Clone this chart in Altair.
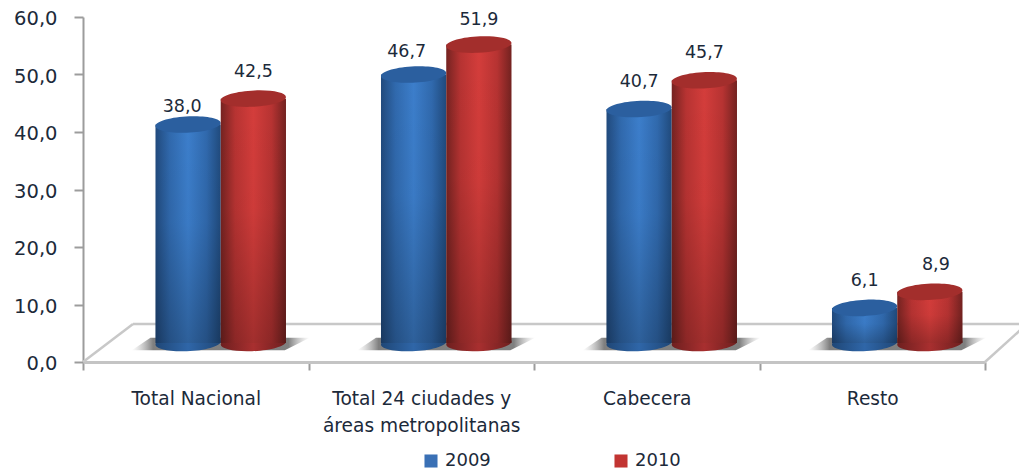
import altair as alt
import pandas as pd

categories = ["Total Nacional", "Total 24 ciudades y áreas metropolitanas", "Cabecera", "Resto"]
years = ["2009", "2010"]
values_2009 = [38.0, 46.7, 40.7, 6.1]
values_2010 = [42.5, 51.9, 45.7, 8.9]

rows = []
for c, a, b in zip(categories, values_2009, values_2010):
    rows.append({"cat": c, "year": "2009", "value": a})
    rows.append({"cat": c, "year": "2010", "value": b})
df = pd.DataFrame(rows)
base_df = pd.DataFrame({"cat": categories})
deco = pd.DataFrame({"k": [0]})

DX = 25
DY = -19
FONT = "DejaVu Sans"
INK = "#1c2a3a"
BAR_W = 65.2

def grad(stops, x2=1, y2=0):
    return alt.LinearGradient(
        gradient="linear", x1=0, y1=0, x2=x2, y2=y2,
        stops=[alt.GradientStop(color=c, offset=o) for o, c in stops],
    )

styles = {
    "2009": {
        "body": [(0, "#214a7d"), (0.22, "#3069ad"), (0.5, "#3c7ecb"), (0.78, "#3069ad"), (1, "#204a7c")],
        "foot": [(0, "#1f4777"), (0.5, "#2f66a8"), (1, "#1f4777")],
        "top": "#2b5f9f",
    },
    "2010": {
        "body": [(0, "#752321"), (0.22, "#b73332"), (0.5, "#d43d3b"), (0.78, "#b73332"), (1, "#732220")],
        "foot": [(0, "#6e1f1f"), (0.5, "#a82f2f"), (1, "#6e1f1f")],
        "top": "#a32e2c",
    },
}
shade = grad([(0, "rgba(0,0,0,0)"), (0.45, "rgba(0,0,0,0.03)"), (1, "rgba(0,0,0,0.24)")], x2=0, y2=1)

ELLIPSE = "M-1,0.04A1,0.25,-3,1,1,1,-0.04A1,0.25,-3,1,1,-1,0.04Z"
SHADOW = "M-1,0.07L-0.79,-0.07L1,-0.07L0.72,0.07Z"

x_enc = alt.X(
    "cat:N",
    sort=categories,
    title=None,
    scale=alt.Scale(domain=categories, paddingInner=0, paddingOuter=0),
    axis=alt.Axis(
        labelAngle=0, labelFont=FONT, labelFontSize=18.6, labelColor=INK,
        labelPadding=28, labelLineHeight=27, labelBaseline="middle",
        tickBand="extent", tickSize=8, tickColor="#9c9c9c", tickWidth=2,
        domainColor="#c4c4c4", domainWidth=3, grid=False, labelLimit=260,
        labelExpr="datum.label == 'Total 24 ciudades y áreas metropolitanas' ? ['Total 24 ciudades y', 'áreas metropolitanas'] : datum.label",
    ),
)
y_enc = alt.Y(
    "value:Q",
    title=None,
    scale=alt.Scale(domain=[0, 60], nice=False),
    axis=alt.Axis(
        values=[0, 10, 20, 30, 40, 50, 60], labelFont=FONT, labelFontSize=19.5, labelColor=INK,
        labelPadding=17, labelOffset=1.5, tickSize=9, tickColor="#9c9c9c", tickWidth=2,
        domainColor="#9c9c9c", domainWidth=2, grid=False,
        labelExpr="replace(format(datum.value, '.1f'), '.', ',')",
    ),
)
off_enc = alt.XOffset("year:N", scale=alt.Scale(domain=years, paddingOuter=0.728, paddingInner=0, align=0.763))
zero = alt.Y(datum=0)

layers = []

# legend carrier
layers.append(
    alt.Chart(df).mark_square(size=1, opacity=1, yOffset=DY).encode(
        x=x_enc, xOffset=off_enc, y=zero,
        color=alt.Color(
            "year:N",
            scale=alt.Scale(domain=years, range=["#3a70b5", "#c23432"]),
            legend=alt.Legend(
                title=None, orient="none", legendX=339, legendY=435, direction="horizontal",
                columns=2, columnPadding=121, symbolType="square", symbolSize=170,
                symbolStrokeWidth=0, labelFont=FONT, labelFontSize=18, labelColor=INK, labelOffset=5,
            ),
        ),
    )
)

# floor outline
floor = [
    dict(x=alt.value(50), x2=alt.value(944), y=alt.value(307), y2=alt.value(307)),
    dict(x=alt.value(0), x2=alt.value(50), y=alt.value(345), y2=alt.value(307)),
    dict(x=alt.value(902), x2=alt.value(944), y=alt.value(345), y2=alt.value(307)),
]
for enc in floor:
    layers.append(alt.Chart(deco).mark_rule(color="#c8c8c8", strokeWidth=2.5).encode(**enc))

# floor shadow
layers.append(
    alt.Chart(base_df).mark_point(
        shape=SHADOW, filled=True, size=178 ** 2, xOffset=DX, yOffset=DY + 1, strokeWidth=0, opacity=1,
        color=grad([(0, "rgba(170,170,170,0)"), (0.12, "rgba(105,105,105,0.85)"),
                    (0.88, "rgba(105,105,105,0.85)"), (1, "rgba(170,170,170,0)")]),
    ).encode(x=x_enc, y=zero)
)

for yr in years:
    st = styles[yr]
    d = alt.Chart(df).transform_filter(alt.datum.year == yr)
    common = dict(x=x_enc, xOffset=off_enc)
    layers.append(
        d.mark_point(shape=ELLIPSE, filled=True, size=BAR_W ** 2, yOffset=DY, strokeWidth=0,
                     opacity=1, color=grad(st["foot"])).encode(y=zero, **common)
    )
    bar_pos = dict(yOffset=DY, y2Offset=DY)
    layers.append(
        d.mark_bar(color=grad(st["body"]), **bar_pos).encode(y=y_enc, y2=alt.Y2(datum=0), **common)
    )
    layers.append(
        d.mark_bar(color=shade, **bar_pos).encode(y=y_enc, y2=alt.Y2(datum=0), **common)
    )
    layers.append(
        d.mark_point(shape=ELLIPSE, filled=True, size=BAR_W ** 2, yOffset=DY, strokeWidth=0,
                     opacity=1, color=st["top"]).encode(y=y_enc, **common)
    )

# value labels; a few sit off their bar centre in the reference
nudges = {("Total Nacional", "2009"): (-6, 9), ("Total 24 ciudades y áreas metropolitanas", "2009"): (-7, 5),
          ("Resto", "2010"): (6, 0), ("Total 24 ciudades y áreas metropolitanas", "2010"): (0, 2)}
for yr in years:
    for cat in categories:
        nx, ny = nudges.get((cat, yr), (0, 0))
        layers.append(
            alt.Chart(df)
            .transform_filter((alt.datum.year == yr) & (alt.datum.cat == cat))
            .transform_calculate(label="replace(format(datum.value, '.1f'), '.', ',')")
            .mark_text(font=FONT, fontSize=17.5, color=INK, baseline="middle", align="center",
                       dx=nx, dy=DY - 27 + ny)
            .encode(x=x_enc, xOffset=off_enc, y=y_enc, text="label:N")
        )

chart = (
    alt.layer(*layers)
    .properties(
        width=902, height=345,
        autosize=alt.AutoSizeParams(type="none", contains="content"),
        padding={"left": 75, "top": 9, "right": 34, "bottom": 108},
        background="white",
    )
    .configure_view(stroke=None)
)
chart.save("out.html", embed_options={"renderer": "svg", "actions": False})
